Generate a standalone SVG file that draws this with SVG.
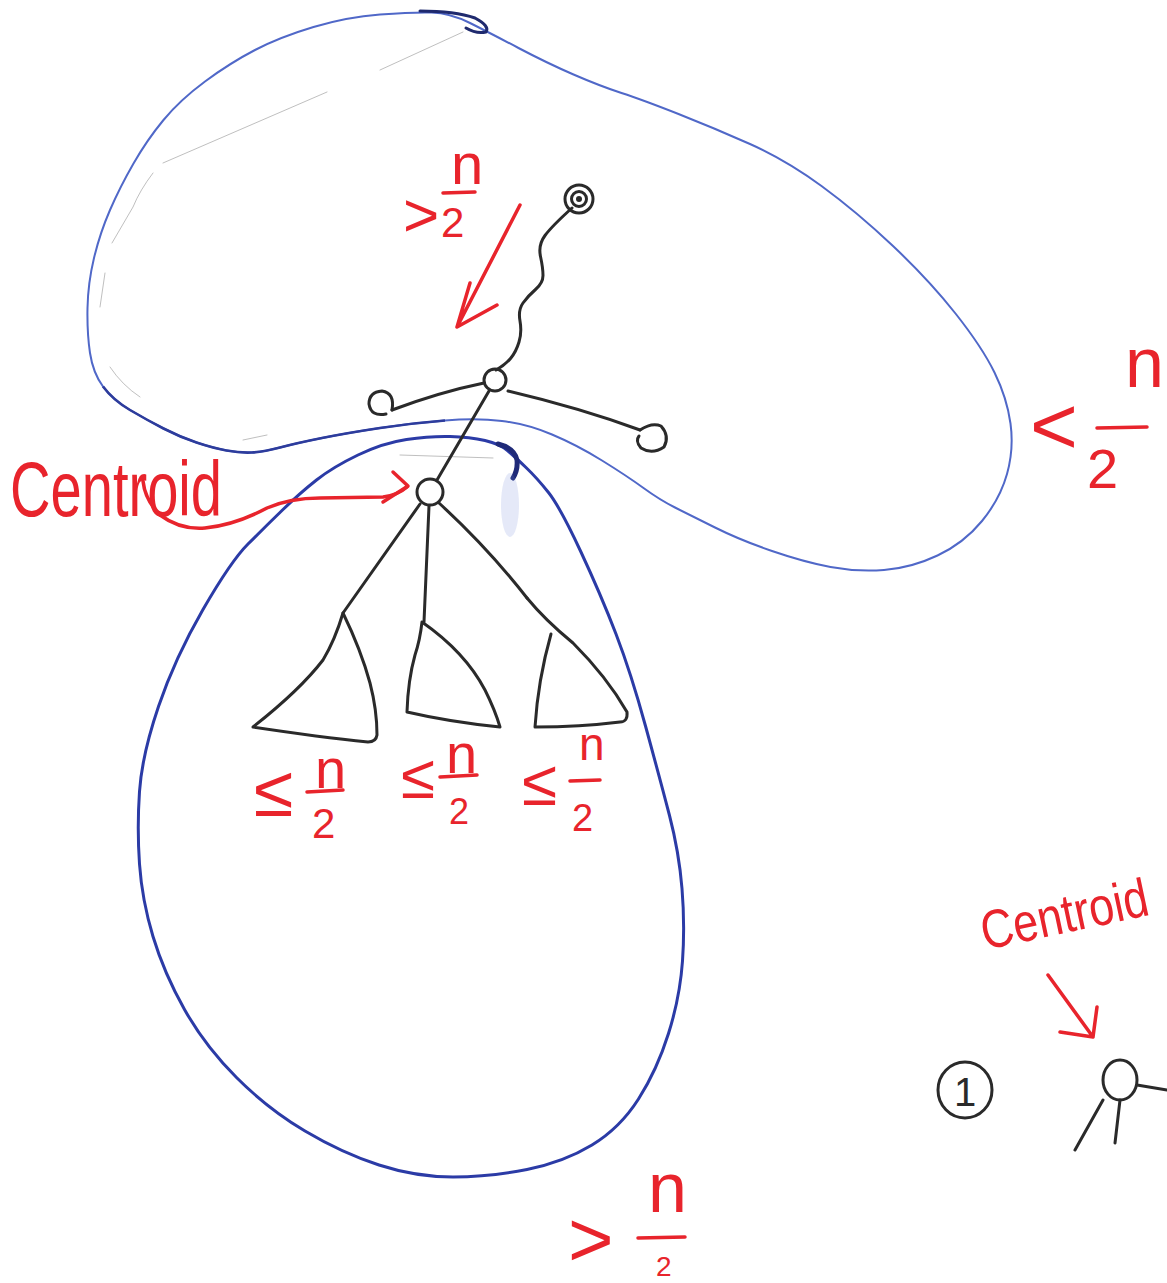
<svg xmlns="http://www.w3.org/2000/svg" width="1167" height="1283" viewBox="0 0 1167 1283">
<style>
.ink{fill:none;stroke:#2a2a2a;stroke-width:3;stroke-linecap:round;stroke-linejoin:round}
.red{fill:none;stroke:#e8242c;stroke-width:3.5;stroke-linecap:round;stroke-linejoin:round}
.rt{fill:#e8242c;font-family:"Liberation Sans",Arial,sans-serif}
.bl1{fill:none;stroke:#5068c8;stroke-width:2;stroke-linejoin:round}
.bl2{fill:none;stroke:#2b3ba6;stroke-width:3;stroke-linejoin:round}
.pen{fill:none;stroke:#8a8a8a;stroke-width:1;opacity:.55;stroke-linecap:round}
</style>
<rect width="1167" height="1283" fill="#ffffff"/>

<g id="regions">
  <path class="bl1" d="M470,23 Q490,33 518.5,48 Q547,63 573.5,74.5 Q600,86 621.5,93 Q643,100 678.5,114 Q714,128 750,144 Q786,160 821.5,186 Q857,212 893,246 Q929,280 955.5,313.5 Q982,347 994.5,372.5 Q1007,398 1010.5,423.5 Q1014,449 1007,474 Q1000,499 982,521 Q964,543 937.5,555.5 Q911,568 884,570 Q857,572 830.5,567 Q804,562 772,551 Q740,540 715,527.5 Q690,515 675,507.5 Q660,500 643.5,488 Q627,476 602,460.5 Q577,445 552,434.5 Q527,424 502,421 Q477,418 445,420.5 Q413,423 380,428 Q347,433 322,438 Q297,443 280,447.5 Q263,452 251.5,452.5 Q240,453 226.5,450.5 Q213,448 196.5,442.5 Q180,437 163.5,428.5 Q147,420 130,410 Q113,400 103,386.5 Q93,373 90,353 Q87,333 87.5,308 Q88,283 94,258 Q100,233 110,210 Q120,187 133.5,163.5 Q147,140 163.5,120 Q180,100 205,81.5 Q230,63 255,50 Q280,37 313.5,27 Q347,17 380,14.5 Q413,12 431.5,12.5 Q450,13 470,23 Z"/>
  <path fill="none" stroke="#2d3c9c" stroke-width="2.6" d="M103,386.5 Q113,400 130,410 Q147,420 163.5,428.5 Q180,437 196.5,442.5 Q213,448 226.5,450.5 Q240,453 251.5,452.5 Q263,452 280,447.5 Q297,443 322,438 Q347,433 380,428 Q413,423 445,420.5"/>
  <path fill="none" stroke="#1f2a6e" stroke-width="3" stroke-linecap="round" d="M420,11 Q455,11 475,18 Q490,26 486,32 Q476,34 466,28"/>
  <path class="bl2" d="M507.5,450.5 Q515,457 526,467.5 Q537,478 548.5,492.5 Q560,507 580.5,551 Q601,595 616,634 Q631,673 645.5,726 Q660,779 669.5,815.5 Q679,852 682,888.5 Q685,925 682.5,961 Q680,997 668.5,1033.5 Q657,1070 638.5,1099 Q620,1128 592,1145 Q564,1162 527,1169.5 Q490,1177 453,1177 Q416,1177 379,1165 Q342,1153 305,1131 Q268,1109 236.5,1077.5 Q205,1046 184.5,1009.5 Q164,973 153,936.5 Q142,900 139.5,864 Q137,828 139.5,791.5 Q142,755 158.5,706.5 Q175,658 203,609.5 Q231,561 248,544 Q265,527 282.5,510 Q300,493 316.5,480 Q333,467 358,455 Q383,443 406.5,439.5 Q430,436 450,436.5 Q470,437 485,440.5 Q500,444 507.5,450.5 Z"/>
  <path fill="none" stroke="#1f2a78" stroke-width="5" stroke-linecap="round" d="M498,444 Q514,448 517,460 Q518,470 513,478"/>
  <ellipse cx="510" cy="505" rx="9" ry="32" fill="#6f86d8" opacity="0.18"/>
  <path class="pen" d="M463,32 L380,70 M327,92 L163,163 M153,173 Q140,190 133,207 L112,243 M105,273 L100,307 M110,367 Q122,385 140,397 M400,455 L493,458 M243,440 L267,435"/>
</g>

<g id="edges">
  <path class="ink" d="M572,208 Q552,226 545,235.5 Q538,245 540.5,256.5 Q543,268 543,275.5 Q543,283 535.5,289.5 Q528,296 523,303 Q518,310 520,321 Q522,332 519,342 Q516,352 510.5,358.5 Q505,365 496,370"/>
  <path class="ink" d="M392,410 Q440,392 484,383"/>
  <path class="ink" d="M508,391 Q580,408 640,430"/>
  <path class="ink" d="M489,391 L437,480"/>
  <path class="ink" d="M420,504 L343,613"/>
  <path class="ink" d="M429,506 L424,622"/>
  <path class="ink" d="M439,503 Q488,548 527,598"/>
</g>

<g id="n-root">
  <circle class="ink" cx="579" cy="199" r="14" stroke-width="4"/>
  <circle class="ink" cx="579" cy="199" r="7.5" stroke-width="3"/>
  <circle cx="579" cy="199" r="3" fill="#2a2a2a"/>
</g>
<g id="n-junction"><circle class="ink" cx="495" cy="380" r="11"/></g>
<g id="n-leaf-left"><path class="ink" d="M392,410 Q395,393 382,391 Q369,392 369,404 Q371,417 386,414"/></g>
<g id="n-leaf-right"><path class="ink" d="M640,430 Q652,422 661,426 Q670,436 664,447 Q652,455 641,448 Q635,441 639,436"/></g>
<g id="n-centroid"><circle class="ink" cx="430" cy="492" r="13"/></g>

<g id="subtree-1"><path class="ink" d="M343,613 Q361,650 370,683 Q377,710 377,735 Q376,742 368,742 Q320,737 253,727 Q300,690 323,660 Q335,640 343,613"/></g>
<g id="subtree-2"><path class="ink" d="M422,622 Q465,652 485,690 Q495,710 500,727 Q450,722 407,712 Q408,680 415,655 Q420,640 422,622"/></g>
<g id="subtree-3"><path class="ink" d="M527,598 Q545,620 573,643 Q607,677 627,712 Q628,722 620,722 Q580,727 535,727 Q538,680 551,634"/></g>

<g id="labels">
  <text class="rt" x="10" y="516" font-size="78" textLength="212" lengthAdjust="spacingAndGlyphs">Centroid</text>
  <path class="red" d="M143,481 Q145,500 160,515 Q180,530 205,528 Q235,525 267,508 Q290,498 320,498 L383,497 Q398,495 407,487"/>
  <path class="red" d="M393,472 L408,486 L383,502"/>

  <text class="rt" x="403" y="236" font-size="62">&gt;</text>
  <text class="rt" x="451" y="184" font-size="58">n</text>
  <path class="red" d="M443,193 L475,192"/>
  <text class="rt" x="441" y="237" font-size="42">2</text>
  <path class="red" d="M520,205 L457,327 M470,283 L457,327 L497,305"/>

  <text class="rt" x="1030" y="454" font-size="82">&lt;</text>
  <text class="rt" x="1125" y="387" font-size="70">n</text>
  <path class="red" d="M1097,428 L1147,427"/>
  <text class="rt" x="1087" y="488" font-size="56">2</text>

  <text class="rt" x="254" y="816" font-size="72">≤</text>
  <text class="rt" x="315" y="788" font-size="56">n</text>
  <path class="red" d="M307,792 L343,790"/>
  <text class="rt" x="312" y="838" font-size="42">2</text>

  <text class="rt" x="401" y="798" font-size="62">≤</text>
  <text class="rt" x="446" y="773" font-size="56">n</text>
  <path class="red" d="M440,777 L477,775"/>
  <text class="rt" x="449" y="824" font-size="36">2</text>

  <text class="rt" x="522" y="805" font-size="64">≤</text>
  <text class="rt" x="579" y="760" font-size="46">n</text>
  <path class="red" d="M570,781 L600,780"/>
  <text class="rt" x="572" y="831" font-size="38">2</text>

  <text class="rt" x="568" y="1266" font-size="78">&gt;</text>
  <text class="rt" x="648" y="1212" font-size="70">n</text>
  <path class="red" d="M638,1238 L685,1237"/>
  <text class="rt" x="656" y="1276" font-size="28">2</text>

  <text class="rt" font-size="45" transform="translate(985 950) rotate(-12) scale(1 1.2)">Centroid</text>
  <path class="red" d="M1048,975 L1093,1037 M1060,1032 L1093,1037 L1097,1007"/>
</g>

<g id="n-one">
  <ellipse class="ink" cx="965" cy="1090" rx="27" ry="28"/>
  <text x="954" y="1106" font-size="40" fill="#2a2a2a" font-family="Liberation Sans, Arial, sans-serif">1</text>
</g>
<g id="n-centroid-2">
  <ellipse class="ink" cx="1120" cy="1080" rx="17" ry="20"/>
  <path class="ink" d="M1137,1085 L1167,1090 M1103,1100 L1075,1150 M1120,1100 L1115,1143"/>
</g>
</svg>
